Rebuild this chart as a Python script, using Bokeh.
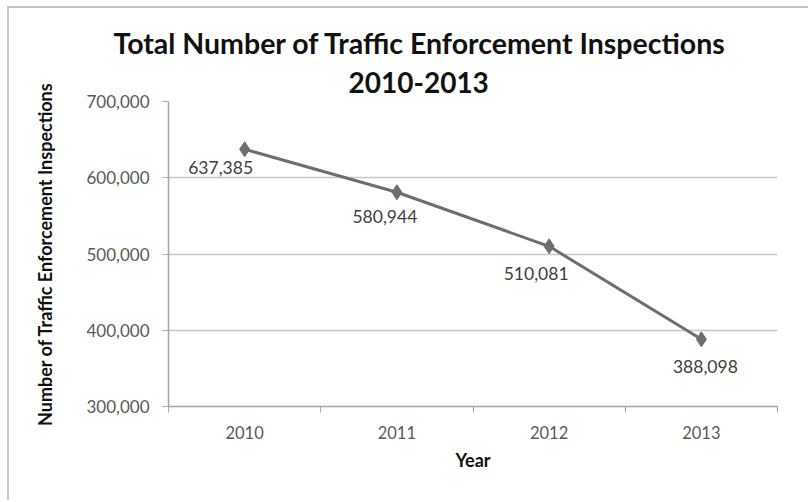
from bokeh.plotting import figure
from bokeh.models import ColumnDataSource, FixedTicker, NumeralTickFormatter, Range1d, Title
from bokeh.core.properties import value
from bokeh.embed import file_html
from bokeh.resources import INLINE

# ---- data ----
years = [2010, 2011, 2012, 2013]
inspections = [637385, 580944, 510081, 388098]
y_ticks = [300000, 400000, 500000, 600000, 700000]
title_lines = ["Total Number of Traffic Enforcement Inspections", "2010-2013"]
x_title = "Year"
y_title = "Number of Traffic Enforcement Inspections"

# ---- label placement (styling, pixels) ----
label_dx = [-24, -12, -13, 4]
label_dy = [18, 24, 27, 27]

FONT = "Lato"
LINE = "#6e6e6e"
GRID = "#c6c6c6"
AXIS = "#a6a6a6"

src = ColumnDataSource(dict(
    year=years,
    value=inspections,
    label=[f"{v:,}" for v in inspections],
    dx=label_dx,
    dy=label_dy,
))

boundaries = [y - 0.5 for y in years] + [years[-1] + 0.5]

p = figure(
    width=801, height=494,
    x_range=Range1d(boundaries[0], boundaries[-1]),
    y_range=Range1d(y_ticks[0], y_ticks[-1]),
    output_backend="svg", toolbar_location=None,
    min_border_left=159, min_border_right=33, min_border_top=93, min_border_bottom=96,
)
p.margin = (6, 0, 0, 7)
p.styles = {"border-left": "2px solid #c4c4c4", "border-top": "2px solid #c4c4c4"}
p.outline_line_color = None
p.background_fill_color = "white"
p.border_fill_color = "white"

# titles (line 2 added first: it sits closest to the plot)
t2 = Title(text=title_lines[1], align="left", offset=180,
           text_font=FONT, text_font_size="28px", text_font_style="bold",
           text_color="#111111", standoff=17)
t1 = Title(text=title_lines[0], align="left", offset=-55,
           text_font=FONT, text_font_size="28.5px", text_font_style="bold",
           text_color="#111111", standoff=3)
p.add_layout(t2, "above")
p.add_layout(t1, "above")

# grid
p.xgrid.visible = False
p.ygrid.ticker = FixedTicker(ticks=y_ticks)
p.ygrid.grid_line_color = GRID
p.ygrid.grid_line_width = 1.5

# y axis
p.yaxis.ticker = FixedTicker(ticks=y_ticks)
p.yaxis.formatter = NumeralTickFormatter(format="0,0")
p.yaxis.axis_line_color = AXIS
p.yaxis.axis_line_width = 1.5
p.yaxis.major_tick_line_color = AXIS
p.yaxis.major_tick_out = 6
p.yaxis.major_tick_in = 0
p.yaxis.minor_tick_line_color = None
p.yaxis.major_label_standoff = 13
p.yaxis.major_label_text_font = FONT
p.yaxis.major_label_text_font_size = "17px"
p.yaxis.major_label_text_color = "#595959"
p.yaxis.axis_label = y_title
p.yaxis.axis_label_text_font = FONT
p.yaxis.axis_label_text_font_size = "18px"
p.yaxis.axis_label_text_font_style = "bold"
p.yaxis.axis_label_text_color = "#111111"
p.yaxis.axis_label_standoff = 27

# x axis
p.xaxis.ticker = FixedTicker(ticks=years, minor_ticks=boundaries)
p.xaxis.axis_line_color = AXIS
p.xaxis.axis_line_width = 1.5
p.xaxis.major_tick_line_color = None
p.xaxis.major_tick_out = 0
p.xaxis.major_tick_in = 0
p.xaxis.minor_tick_line_color = AXIS
p.xaxis.minor_tick_out = 6
p.xaxis.minor_tick_in = 0
p.xaxis.major_label_standoff = 13
p.xaxis.major_label_text_font = FONT
p.xaxis.major_label_text_font_size = "16.5px"
p.xaxis.major_label_text_color = "#595959"
p.xaxis.axis_label = x_title
p.xaxis.axis_label_text_font = FONT
p.xaxis.axis_label_text_font_size = "18px"
p.xaxis.axis_label_text_font_style = "bold"
p.xaxis.axis_label_text_color = "#111111"
p.xaxis.axis_label_standoff = 7

# series
p.line(x="year", y="value", source=src, line_color=LINE, line_width=3)
p.scatter(x="year", y="value", source=src, marker="diamond", size=15,
          fill_color=LINE, line_color=LINE)
p.text(x="year", y="value", text="label", source=src,
       x_offset="dx", y_offset="dy",
       text_font=value(FONT), text_font_size="17.5px", text_color="#404040",
       text_align="center", text_baseline="middle")

open("out.html", "w").write(file_html(p, INLINE))
